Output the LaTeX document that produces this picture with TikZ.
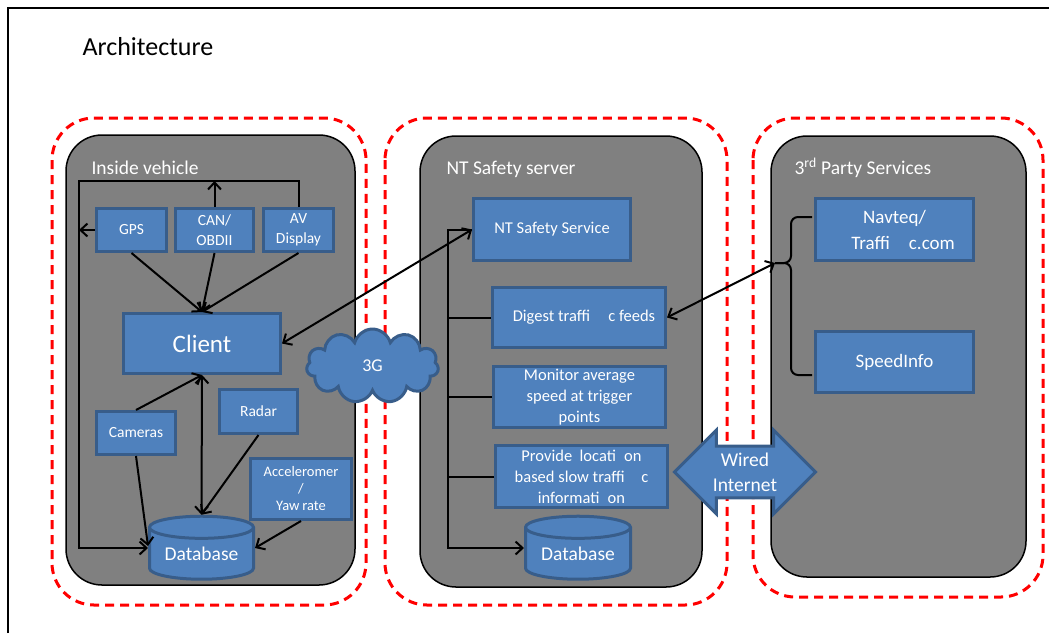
\documentclass[tikz,border=0pt]{standalone}
\usepackage{fontspec}
\setmainfont{Carlito}
\usetikzlibrary{arrows.meta,shapes.geometric,shapes.symbols,shapes.arrows}

\definecolor{boxblue}{RGB}{79,129,189}
\definecolor{boxline}{RGB}{56,93,138}
\definecolor{panelgray}{RGB}{128,128,128}

\tikzset{
  panel/.style={fill=panelgray, draw=black, line width=1.5, rounded corners=36},
  zone/.style={draw=red, line width=3, dash pattern=on 9pt off 6pt, rounded corners=42},
  box/.style={draw=boxline, fill=boxblue, line width=3, text=white, align=center, inner sep=0},
  smallbox/.style={box, font=\fontsize{15.5}{20}\selectfont},
  midbox/.style={box, font=\fontsize{16.5}{21}\selectfont},
  bigbox/.style={box, font=\fontsize{19}{26}\selectfont},
  dbase/.style={cylinder, shape border rotate=90, aspect=0.3, draw=boxline, fill=boxblue, line width=3,
    text=white, font=\fontsize{19.5}{22}\selectfont, inner sep=0},
  heading/.style={anchor=west, text=white, font=\fontsize{19.5}{22}\selectfont},
  link/.style={line width=2, draw=black},
}

\begin{document}
\begin{tikzpicture}[x=1pt, y=-1pt, >={Straight Barb[length=7pt,width=13pt]}]
  \useasboundingbox (0,0) rectangle (1049,633);
  \draw[line width=2] (8,633) -- (8,8) -- (1049,8); % page frame
  \node[anchor=west, font=\fontsize{26}{30}\selectfont] (title) at (79,47) {Architecture};

  % zones
  \draw[zone] (52,118) rectangle (366,605);
  \draw[zone] (385,118) rectangle (727,605);
  \draw[zone] (753,118) rectangle (1043,597);
  \draw[panel] (66,135) rectangle (355,585);
  \draw[panel] (420,136) rectangle (702,587);
  \draw[panel] (771,136) rectangle (1026,577);
  \node[heading] (vehicle) at (88,168) {Inside vehicle};
  \node[heading] (server) at (443,169) {NT Safety server};
  \node[heading] (party) at (791,168) {3\textsuperscript{rd} Party Services};

  % inside vehicle
  \node[smallbox, minimum width=70, minimum height=43] (gps) at (131.5,230) {GPS};
  \node[smallbox, minimum width=78, minimum height=43] (can) at (214.5,230) {CAN/\\OBDII};
  \node[smallbox, minimum width=70, minimum height=43] (av) at (298.5,230) {AV\\Display};
  \node[box, font=\fontsize{25}{30}\selectfont, minimum width=157, minimum height=60] (client) at (202,343.5) {Client};
  \node[smallbox, minimum width=79, minimum height=43] (cameras) at (136,433) {Cameras};
  \node[smallbox, minimum width=78, minimum height=44] (radar) at (258.5,411.5) {Radar};
  \node[smallbox, font=\fontsize{14.5}{17}\selectfont, minimum width=101, minimum height=61] (accel) at (301,489) {Acceleromer\\/\\Yaw\hspace{0.2em}rate};
  \node[dbase, minimum width=104, minimum height=63] (dbveh) at (201.5,554) {Database};

  % server
  \node[midbox, minimum width=157, minimum height=62] (service) at (552,229.5) {NT Safety Service};
  \node[midbox, minimum width=173, minimum height=60] (digest) at (579,317.5) {\hspace{0.6em}Digest traffi\hspace{1.1em}c feeds};
  \node[midbox, minimum width=172, minimum height=61] (monitor) at (579.5,397) {Monitor average\\speed at trigger\\points};
  \node[midbox, minimum width=172, minimum height=62] (provide) at (581.5,476.5) {Provide\ \ locati\hspace{0.5em}on\\based slow traffi\hspace{1em}c\\informati\hspace{0.5em}on};
  \node[dbase, minimum width=105, minimum height=63] (dbsrv) at (578,554) {Database};

  % third party
  \node[bigbox, minimum width=158, minimum height=62] (navteq) at (894.5,229.5) {Navteq/\\\hspace{0.9em}Traffi\hspace{1em}c.com};
  \node[bigbox, minimum width=158, minimum height=61] (speed) at (894.5,362) {SpeedInfo};

  \node[cloud, cloud puffs=11, aspect=1.8, draw=boxline, fill=boxblue, line width=3, text=white,
    font=\fontsize{18}{20}\selectfont, minimum width=132, minimum height=74] (cloud) at (372.5,366) {3G};
  \node[double arrow, double arrow head extend=16, draw=boxline, fill=boxblue, line width=3, text=white,
    align=center, font=\fontsize{19.5}{25}\selectfont, inner xsep=0, inner ysep=5, minimum height=141] (wired) at (745,472) {Wired\\Internet};

  % links in the vehicle
  \coordinate (looptop) at (79,181);
  \draw[link, ->] (av.north) |- (looptop) |- ([yshift=6pt]dbveh.west);
  \draw[link, ->] (can.north) -- (can.north |- looptop);
  \draw[link, ->] (gps.west) -- (gps.west -| looptop);
  \foreach \n in {gps,can,av}
    \draw[link, ->] (\n.south) -- (client.north);
  \draw[link, ->] (cameras.north) -- (client.south);
  \draw[link, <->] (client.south) -- (dbveh.north);
  \draw[link, ->] (radar.south) -- (dbveh.north);
  \draw[link, ->] (accel.south) -- ([yshift=6pt]dbveh.east);
  \draw[link, ->] (cameras.south) -- ([yshift=8pt]dbveh.west);

  % links in the server
  \coordinate (bustop) at (448,229.5);
  \draw[link, ->] (service.west) -- (bustop) |- ([yshift=6pt]dbsrv.west);
  \foreach \n in {digest,monitor,provide}
    \draw[link] (\n.west) -- (\n.west -| bustop);
  \draw[link, <->] (client.east) -- (service.west);

  % brace to the third party services
  \coordinate (bracetip) at (775,263);
  \draw[link, rounded corners=7] (812,217) -- (791,217) -- (791,263) -- (bracetip);
  \draw[link, rounded corners=7] (bracetip) -- (791,263) -- (791,375) -- (812,375);
  \draw[link, <->] (digest.east) -- (bracetip);
\end{tikzpicture}
\end{document}
